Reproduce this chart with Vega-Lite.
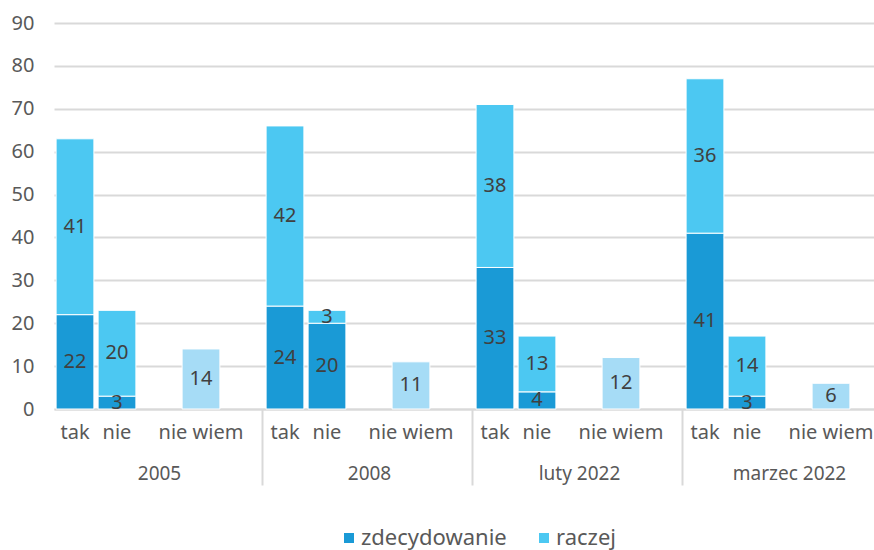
{
  "$schema": "https://vega.github.io/schema/vega-lite/v6.json",
  "width": 820,
  "height": 386,
  "autosize": {"type": "none"},
  "padding": {"left": 54, "top": 23, "right": 0, "bottom": 141},
  "background": "white",
  "config": {"view": {"stroke": null}, "font": "Noto Sans"},
  "data": {
    "values": [
      {"period": "2005", "answer": "tak", "series": "zdecydowanie", "value": 22},
      {"period": "2005", "answer": "tak", "series": "raczej", "value": 41},
      {"period": "2005", "answer": "nie", "series": "zdecydowanie", "value": 3},
      {"period": "2005", "answer": "nie", "series": "raczej", "value": 20},
      {"period": "2005", "answer": "nie wiem", "series": "nie wiem", "value": 14},
      {"period": "2008", "answer": "tak", "series": "zdecydowanie", "value": 24},
      {"period": "2008", "answer": "tak", "series": "raczej", "value": 42},
      {"period": "2008", "answer": "nie", "series": "zdecydowanie", "value": 20},
      {"period": "2008", "answer": "nie", "series": "raczej", "value": 3},
      {"period": "2008", "answer": "nie wiem", "series": "nie wiem", "value": 11},
      {"period": "luty 2022", "answer": "tak", "series": "zdecydowanie", "value": 33},
      {"period": "luty 2022", "answer": "tak", "series": "raczej", "value": 38},
      {"period": "luty 2022", "answer": "nie", "series": "zdecydowanie", "value": 4},
      {"period": "luty 2022", "answer": "nie", "series": "raczej", "value": 13},
      {"period": "luty 2022", "answer": "nie wiem", "series": "nie wiem", "value": 12},
      {"period": "marzec 2022", "answer": "tak", "series": "zdecydowanie", "value": 41},
      {"period": "marzec 2022", "answer": "tak", "series": "raczej", "value": 36},
      {"period": "marzec 2022", "answer": "nie", "series": "zdecydowanie", "value": 3},
      {"period": "marzec 2022", "answer": "nie", "series": "raczej", "value": 14},
      {"period": "marzec 2022", "answer": "nie wiem", "series": "nie wiem", "value": 6}
    ]
  },
  "transform": [
    {"calculate": "datum.period + '|' + datum.answer", "as": "slot"},
    {"calculate": "datum.series === 'raczej' ? 2 : 1", "as": "rank"},
    {"stack": "value", "groupby": ["slot"], "sort": [{"field": "rank", "order": "ascending"}], "as": ["v0", "v1"]},
    {"calculate": "(datum.v0 + datum.v1) / 2", "as": "vmid"}
  ],
  "layer": [
    {
      "mark": {"type": "bar", "stroke": "white", "strokeWidth": 1},
      "encoding": {
        "x": {
          "field": "slot",
          "type": "nominal",
          "scale": {
            "domain": [
              "2005|tak", "2005|nie", "2005|g1", "2005|nie wiem", "2005|g2",
              "2008|tak", "2008|nie", "2008|g1", "2008|nie wiem", "2008|g2",
              "luty 2022|tak", "luty 2022|nie", "luty 2022|g1", "luty 2022|nie wiem", "luty 2022|g2",
              "marzec 2022|tak", "marzec 2022|nie", "marzec 2022|g1", "marzec 2022|nie wiem", "marzec 2022|g2"
            ],
            "range": [0, 840],
            "paddingInner": 0.1,
            "paddingOuter": 0.05
          },
          "axis": {
            "orient": "bottom",
            "title": null,
            "domainColor": "#d9d9d9",
            "domainWidth": 2,
            "ticks": false,
            "grid": false,
            "labelAngle": 0,
            "labelFontSize": 20,
            "labelColor": "#595959",
            "labelPadding": 13,
            "labelOverlap": false,
            "labelBound": false,
            "labelExpr": "!isString(datum.value) || indexof(datum.value, '|g') >= 0 ? '' : split(datum.value, '|')[1]"
          }
        },
        "y": {
          "field": "v0",
          "type": "quantitative",
          "scale": {"domain": [0, 90], "nice": false},
          "axis": {
            "orient": "left",
            "title": null,
            "values": [0, 10, 20, 30, 40, 50, 60, 70, 80, 90],
            "domain": false,
            "ticks": false,
            "grid": true,
            "gridColor": "#d9d9d9",
            "gridWidth": 2,
            "labelFontSize": 20,
            "labelColor": "#595959",
            "labelPadding": 20
          }
        },
        "y2": {"field": "v1"},
        "color": {
          "field": "series",
          "type": "nominal",
          "scale": {
            "domain": ["zdecydowanie", "raczej", "nie wiem"],
            "range": ["#1A9AD6", "#4CC8F2", "#A6DCF6"]
          },
          "legend": {
            "values": ["zdecydowanie", "raczej"],
            "orient": "none",
            "legendX": 284,
            "legendY": 504,
            "direction": "horizontal",
            "title": null,
            "symbolType": "square",
            "symbolSize": 100,
            "symbolStrokeWidth": 0,
            "labelFontSize": 22,
            "labelColor": "#595959",
            "columnPadding": 26,
            "labelOffset": 1,
            "padding": 0
          }
        }
      }
    },
    {
      "mark": {"type": "text", "fontSize": 20, "color": "#404040"},
      "encoding": {
        "x": {
          "field": "slot",
          "type": "nominal",
          "axis": {
            "orient": "bottom",
            "title": null,
            "domain": false,
            "grid": false,
            "ticks": true,
            "tickBand": "extent",
            "tickSize": 76,
            "tickColor": "#d9d9d9",
            "tickWidth": 2,
            "tickOpacity": {
              "condition": {"test": "isString(datum.value) && indexof(datum.value, '|g2') >= 0 && indexof(datum.value, 'marzec') < 0", "value": 1},
              "value": 0
            },
            "labelAngle": 0,
            "labelFontSize": 19,
            "labelColor": "#595959",
            "labelPadding": -21,
            "labelOverlap": false,
            "labelBound": false,
            "labelExpr": "isString(datum.value) && indexof(datum.value, '|g1') >= 0 ? split(datum.value, '|')[0] : ''"
          }
        },
        "y": {"field": "vmid", "type": "quantitative"},
        "text": {"field": "value", "type": "quantitative"}
      }
    }
  ],
  "resolve": {"axis": {"x": "independent"}}
}
